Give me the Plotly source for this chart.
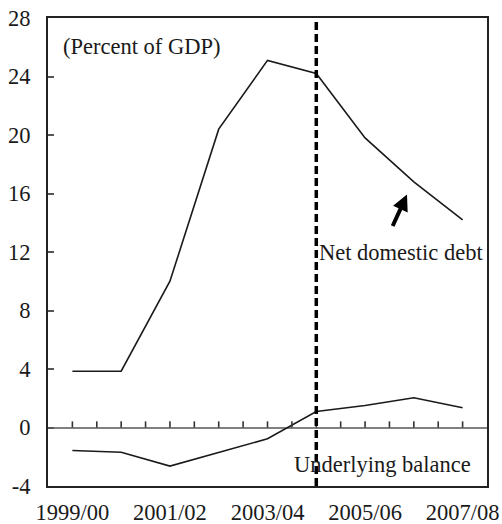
import plotly.graph_objects as go

# Fiscal years and series (percent of GDP)
years = ["1999/00", "2000/01", "2001/02", "2002/03", "2003/04",
         "2004/05", "2005/06", "2006/07", "2007/08"]
net_domestic_debt = [3.85, 3.85, 10.0, 20.4, 25.1, 24.2, 19.8, 16.8, 14.2]
underlying_balance = [-1.57, -1.69, -2.64, -1.7, -0.77, 1.09, 1.5, 2.03, 1.35]

y_ticks = [-4, 0, 4, 8, 12, 16, 20, 24, 28]
x_label_idx = [0, 2, 4, 6, 8]

idx = list(range(len(years)))
FONT = "Liberation Serif, Times New Roman, serif"
INK = "#1a1a1a"
FS = 22.5

fig = go.Figure()
fig.add_trace(go.Scatter(x=idx, y=net_domestic_debt, mode="lines",
                         line=dict(color=INK, width=1.6), showlegend=False))
fig.add_trace(go.Scatter(x=idx, y=underlying_balance, mode="lines",
                         line=dict(color=INK, width=1.6), showlegend=False))

y_min, y_max = y_ticks[0], y_ticks[-1]

# Small upward tick marks on the zero line, every half year
tick_h = 0.42
tx, ty = [], []
for k in range(0, 2 * len(years) - 1):
    tx += [k / 2, k / 2, None]
    ty += [0, tick_h, None]
fig.add_trace(go.Scatter(x=tx, y=ty, mode="lines", hoverinfo="skip",
                         line=dict(color="#333333", width=1.6),
                         connectgaps=False, showlegend=False))

fig.update_layout(
    width=502, height=524,
    margin=dict(l=48, r=15, t=18, b=38),
    paper_bgcolor="white", plot_bgcolor="white",
    font=dict(family=FONT, size=FS, color=INK),
    xaxis=dict(range=[-0.5, len(years) - 0.5], tickvals=x_label_idx,
               ticktext=[years[i] for i in x_label_idx], ticks="",
               showgrid=False, zeroline=False, showline=True,
               linecolor="#222", linewidth=2, mirror=True,
               ticklabelstandoff=5, automargin=False),
    yaxis=dict(range=[y_min, y_max], tickvals=y_ticks,
               ticktext=[str(v) for v in y_ticks], ticks="inside",
               ticklen=6, tickwidth=1.5, tickcolor="#555555",
               showgrid=False,
               zeroline=True, zerolinecolor="#808080", zerolinewidth=1.5,
               showline=True, linecolor="#222", linewidth=2, mirror=True,
               ticklabelstandoff=11, automargin=False),
)

# Vertical dashed marker at 2004/05
fig.add_shape(type="line", xref="x", yref="paper", x0=5, x1=5, y0=0, y1=1,
              line=dict(color="black", width=3.5, dash="8px,4px"))

fig.add_annotation(text="(Percent of GDP)", xref="paper", yref="paper",
                   x=0.03, y=0.94, xanchor="left", yanchor="middle",
                   showarrow=False, font=dict(size=FS))
fig.add_annotation(text="Net domestic debt", xref="x", yref="y",
                   x=5, y=12, xanchor="left", yanchor="middle", xshift=1,
                   showarrow=False, font=dict(size=FS))
fig.add_annotation(text="Underlying balance", xref="x", yref="y",
                   x=4.5, y=-2.5, xanchor="left", yanchor="middle",
                   showarrow=False, font=dict(size=FS))
# Arrow pointing at the debt line
fig.add_annotation(x=6.86, y=15.93, xref="x", yref="y", text="",
                   showarrow=True, ax=-15, ay=33, arrowhead=2,
                   arrowsize=0.8, arrowwidth=4, arrowcolor="black")

fig.write_html("out.html")
